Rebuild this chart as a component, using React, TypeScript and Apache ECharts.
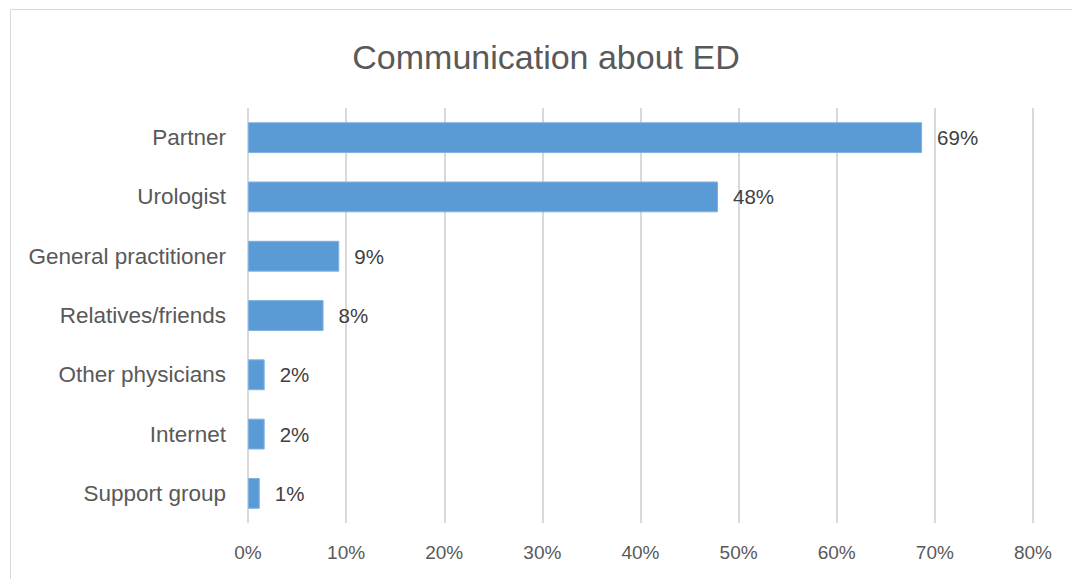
import React, { useEffect, useRef } from "react";
import * as echarts from "echarts";

const categories = [
  "Partner",
  "Urologist",
  "General practitioner",
  "Relatives/friends",
  "Other physicians",
  "Internet",
  "Support group",
];
const values = [68.7, 47.9, 9.3, 7.7, 1.7, 1.7, 1.2];
const valueLabels = ["69%", "48%", "9%", "8%", "2%", "2%", "1%"];
const xTicks = [0, 10, 20, 30, 40, 50, 60, 70, 80];

const FONT = "Liberation Sans";
const TEXT = "#595959";

export default function App() {
  const ref = useRef<HTMLDivElement>(null);
  useEffect(() => {
    if (!ref.current) return;
    const chart = echarts.init(ref.current, null, { renderer: "svg" });
    chart.setOption({
      animation: false,
      backgroundColor: "#ffffff",
      title: {
        text: "Communication about ED",
        left: 541,
        top: 35,
        textAlign: "center",
        textStyle: { fontFamily: FONT, fontSize: 34, fontWeight: "normal", color: TEXT },
      },
      graphic: [
        {
          type: "rect",
          shape: { x: 10.5, y: 9.5, width: 1200, height: 700 },
          style: { fill: "none", stroke: "#d9d9d9", lineWidth: 1 },
          silent: true,
        },
      ],
      grid: { left: 248, right: 39, top: 108, bottom: 56 },
      xAxis: {
        type: "value",
        min: xTicks[0],
        max: xTicks[xTicks.length - 1],
        interval: 10,
        axisLine: { show: false },
        axisTick: { show: false },
        splitLine: { show: true, lineStyle: { color: "#d9d9d9", width: 2 } },
        axisLabel: {
          formatter: (v: number) => `${v}%`,
          fontFamily: FONT,
          fontSize: 19,
          color: TEXT,
          margin: 20,
        },
      },
      yAxis: {
        type: "category",
        data: categories,
        inverse: true,
        axisLine: { show: false },
        axisTick: { show: false },
        axisLabel: {
          fontFamily: FONT,
          fontSize: 22.5,
          color: TEXT,
          margin: 22,
        },
      },
      series: [
        {
          type: "bar",
          data: values,
          barCategoryGap: "48%",
          itemStyle: { color: "#5b9bd5", borderColor: "#7fb1e0", borderWidth: 1 },
          label: {
            show: true,
            position: "right",
            distance: 15,
            formatter: (p: any) => valueLabels[p.dataIndex],
            fontFamily: FONT,
            fontSize: 20.5,
            color: "#404040",
          },
        },
      ],
    });
    return () => chart.dispose();
  }, []);
  return (
    <div
      ref={ref}
      style={{ position: "fixed", left: 0, top: 0, width: 1072, height: 579 }}
    />
  );
}
